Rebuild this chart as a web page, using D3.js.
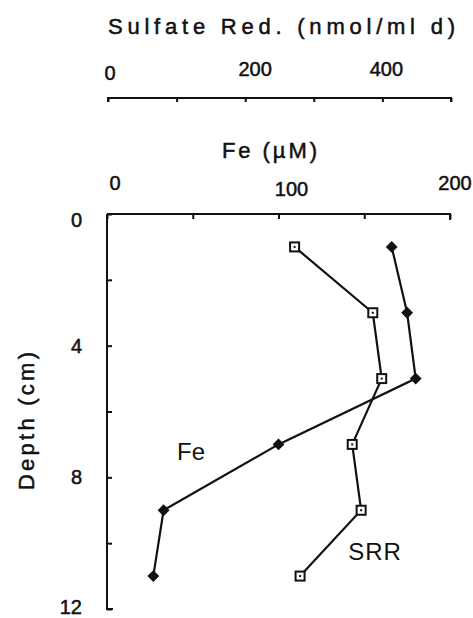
<!DOCTYPE html>
<html><head><meta charset="utf-8">
<script src="https://cdn.jsdelivr.net/npm/d3@7"></script>
<style>body{margin:0;background:#fff}svg text{font-family:"Liberation Sans",Arial,sans-serif;fill:#111}</style>
</head><body><svg id="c" width="473" height="618"></svg>
<script>
const depths = [1, 3, 5, 7, 9, 11];
const feValues = [166, 175, 180, 100, 33, 27];
const srrValues = [272, 386, 399, 356, 369, 280];
const feTicks = [0, 50, 100, 150, 200];
const feTickLabels = [0, 100, 200];
const srTicks = [0, 100, 200, 300, 400, 500];
const srTickLabels = [0, 200, 400];
const depthTicks = [0, 2, 4, 6, 8, 10, 12];
const depthTickLabels = [0, 4, 8, 12];

const svg = d3.select("#c");
const x = d3.scaleLinear().domain([0, 200]).range([107, 450]);
const xs = d3.scaleLinear().domain([0, 500]).range([108, 451]);
const y = d3.scaleLinear().domain([0, 12]).range([214, 609]);
const ink = "#111";
const bold = s => s.attr("stroke", ink).attr("stroke-width", 0.5);

// Top SR axis
const gS = svg.append("g").attr("transform", "translate(0,98)")
  .call(d3.axisBottom(xs).tickValues(srTicks).tickSize(4).tickFormat(""));
gS.select(".domain").attr("d", `M${xs(0)},4V0H${xs(500)}V4`);
gS.selectAll("path,line").attr("stroke", ink).attr("stroke-width", 2);
const srOff = {0: 2, 200: 10, 400: 4};
srTickLabels.forEach(v => svg.append("text").attr("x", xs(v) + srOff[v]).attr("y", v === 0 ? 80 : 76)
  .attr("text-anchor", "middle").attr("font-size", 20).call(bold).text(v));
svg.append("text").attr("x", 108).attr("y", 34).attr("font-size", 22)
  .attr("textLength", 347).attr("lengthAdjust", "spacing").call(bold)
  .text("Sulfate Red. (nmol/ml d)");

// Fe axis labels
svg.append("text").attr("x", 222).attr("y", 158).attr("font-size", 22)
  .attr("textLength", 95).attr("lengthAdjust", "spacing").call(bold).text("Fe (\u00b5M)");
const feOff = {0: 8, 100: 13, 200: 5};
feTickLabels.forEach(v => svg.append("text").attr("x", x(v) + feOff[v]).attr("y", v === 100 ? 196 : 190)
  .attr("text-anchor", "middle").attr("font-size", 20).call(bold).text(v));

// Fe axis (top of frame), ticks inward
const gF = svg.append("g").attr("transform", "translate(0,214)")
  .call(d3.axisBottom(x).tickValues(feTicks).tickSize(5).tickFormat(""));
gF.select(".domain").attr("d", `M${x(0)},0H${x(200)}V6`);
gF.selectAll("path,line").attr("stroke", ink).attr("stroke-width", 2);

// Depth axis, ticks inward
const gY = svg.append("g").attr("transform", "translate(107,0)")
  .call(d3.axisRight(y).tickValues(depthTicks).tickSize(5).tickFormat(""));
gY.select(".domain").attr("d", `M0,${y(0)}V${y(12)}H6`);
gY.selectAll("path,line").attr("stroke", ink).attr("stroke-width", 2);
depthTickLabels.forEach(v => svg.append("text").attr("x", 82).attr("y", y(v) + (v === 0 ? 13 : v === 12 ? 5 : 7))
  .attr("text-anchor", "end").attr("font-size", 20).call(bold).text(v));
svg.append("text").attr("transform", `translate(34,490) rotate(-90)`)
  .attr("font-size", 22).attr("textLength", 138).attr("lengthAdjust", "spacing").call(bold)
  .text("Depth (cm)");

// Lines
const feData = depths.map((d, i) => ({d, v: feValues[i]}));
const srData = depths.map((d, i) => ({d, v: srrValues[i]}));
svg.append("path").datum(feData).attr("fill", "none").attr("stroke", ink).attr("stroke-width", 2.2)
  .attr("d", d3.line().x(p => x(p.v)).y(p => y(p.d)));
svg.append("path").datum(srData).attr("fill", "none").attr("stroke", ink).attr("stroke-width", 2.2)
  .attr("d", d3.line().x(p => xs(p.v)).y(p => y(p.d)));

// Markers
svg.selectAll(".fe").data(feData).enter().append("path")
  .attr("transform", p => `translate(${x(p.v)},${y(p.d)}) rotate(45)`)
  .attr("d", "M-4.2,-4.2H4.2V4.2H-4.2Z").attr("fill", ink);
const sq = svg.selectAll(".sr").data(srData).enter().append("g")
  .attr("transform", p => `translate(${xs(p.v)},${y(p.d)})`);
sq.append("rect").attr("x", -4.5).attr("y", -4.5).attr("width", 9).attr("height", 9)
  .attr("fill", "#fff").attr("stroke", ink).attr("stroke-width", 2);
sq.append("rect").attr("x", -1).attr("y", -1).attr("width", 2).attr("height", 2).attr("fill", ink);

// Series labels
svg.append("text").attr("x", 191).attr("y", 460).attr("text-anchor", "middle").attr("font-size", 24).text("Fe");
svg.append("text").attr("x", 375).attr("y", 560).attr("text-anchor", "middle").attr("font-size", 24)
  .attr("letter-spacing", 1).text("SRR");
</script></body></html>
